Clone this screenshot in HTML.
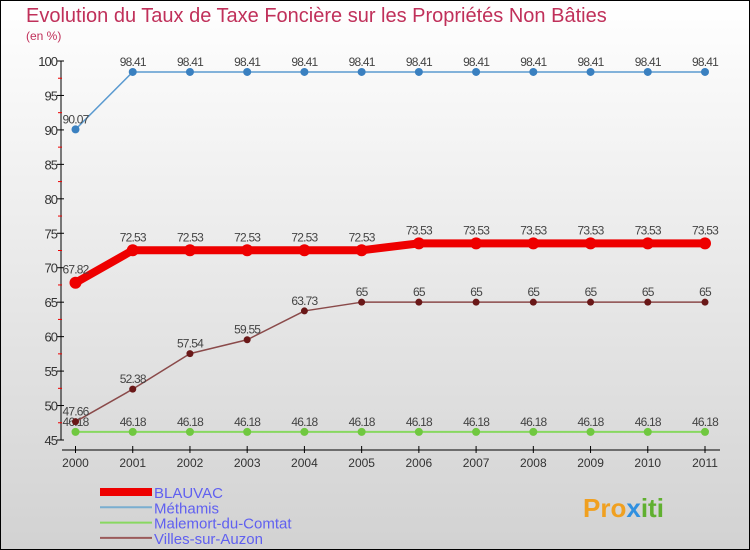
<!DOCTYPE html>
<html><head><meta charset="utf-8"><style>
body{margin:0;}
svg{display:block;font-family:"Liberation Sans",sans-serif;}
</style></head><body>
<svg id="c" width="750" height="550">
<defs><linearGradient id="bg" x1="0" y1="0" x2="0" y2="1"><stop offset="0" stop-color="#ffffff"/><stop offset="1" stop-color="#d2d2d2"/></linearGradient></defs>
<rect x="0.5" y="0.5" width="749" height="549" fill="url(#bg)" stroke="#000"/>
<text x="26" y="22" font-size="20" fill="#c0305a">Evolution du Taux de Taxe Foncière sur les Propriétés Non Bâties</text>
<text x="26" y="40" font-size="12" fill="#c0305a">(en %)</text>
<g id="g"></g>
<text x="583" y="517" font-size="26" font-weight="bold" fill="#f0a020">Pro<tspan fill="#3090e0">x</tspan><tspan fill="#60b030">iti</tspan></text>
</svg>
<script>
const years=["2000","2001","2002","2003","2004","2005","2006","2007","2008","2009","2010","2011"];
const yTicks=[45,50,55,60,65,70,75,80,85,90,95,100];
const blauvac=[67.82,72.53,72.53,72.53,72.53,72.53,73.53,73.53,73.53,73.53,73.53,73.53];
const methamis=[90.07,98.41,98.41,98.41,98.41,98.41,98.41,98.41,98.41,98.41,98.41,98.41];
const malemort=[46.18,46.18,46.18,46.18,46.18,46.18,46.18,46.18,46.18,46.18,46.18,46.18];
const villes=[47.66,52.38,57.54,59.55,63.73,65,65,65,65,65,65,65];
const names=["BLAUVAC","Méthamis","Malemort-du-Comtat","Villes-sur-Auzon"];
const NS="http://www.w3.org/2000/svg";
const g=document.getElementById('g');
const X=i=>75.5+i*(705-75.5)/(years.length-1);
const Y=v=>440-(v-45)*(440-61)/55;
function el(t,a,txt){const e=document.createElementNS(NS,t);for(const k in a)e.setAttribute(k,a[k]);if(txt!==undefined)e.textContent=txt;g.appendChild(e);return e;}
let ax=el('line',{x1:61,y1:Y(100),x2:61,y2:Y(45),stroke:'#000'});


let xa=el('line',{x1:62,y1:450,x2:720,y2:450,stroke:'#000'});


yTicks.forEach(v=>{
 let t=el('line',{x1:57,y1:Y(v),x2:64,y2:Y(v),stroke:'#000'});
 
 
 if(v<100){let m=el('line',{x1:58,y1:Y(v+2.5),x2:62,y2:Y(v+2.5),stroke:'#e00'});
 
 }
 let l=el('text',{x:57,y:Y(v)+5,'font-size':13,fill:'#333','text-anchor':'end','letter-spacing':'-1'},v);
 
 
});
years.forEach((y,i)=>{
 let t=el('line',{x1:X(i),y1:446,x2:X(i),y2:453,stroke:'#000'});
 
 
 let l=el('text',{x:X(i),y:467,'font-size':12,fill:'#333','text-anchor':'middle'},y);
 
 
});
const series=[
 {d:methamis,c:'#5a9ad0',w:1.5,r:4,pc:'#3a80c0',n:'methamis'},
 {d:malemort,c:'#88d860',w:2,r:4,pc:'#70c840',n:'malemort'},
 {d:villes,c:'#8a4a4a',w:1.5,r:3.5,pc:'#6a1818',n:'villes'},
 {d:blauvac,c:'#ee0000',w:8,r:6,pc:'#ee0000',n:'blauvac'}];
series.forEach(s=>{
 let p=el('polyline',{points:s.d.map((v,i)=>X(i)+','+Y(v)).join(' '),fill:'none',stroke:s.c,'stroke-width':s.w,'stroke-linejoin':'round'});
 
 
 s.d.forEach((v,i)=>{
  let c=el('circle',{cx:X(i),cy:Y(v),r:s.r,fill:s.pc});
  
  
  let t=el('text',{x:X(i),y:Y(v)-(s.n=='blauvac'?9:6),'font-size':12,fill:'#444','text-anchor':'middle','letter-spacing':'-0.8'},v);
  
  
 });
});
const lc=['#ee0000','#7aaed0','#88d860','#9a5a5a'],lw=[8,2,2,2];
names.forEach((n,i)=>{
 const y=492+i*15.3;
 let l=el('line',{x1:100,y1:y,x2:152,y2:y,stroke:lc[i],'stroke-width':lw[i]});
 
 
 let t=el('text',{x:154,y:y+6,'font-size':15,fill:'#6060f0'},n);
 
 
});
</script>
</body></html>
